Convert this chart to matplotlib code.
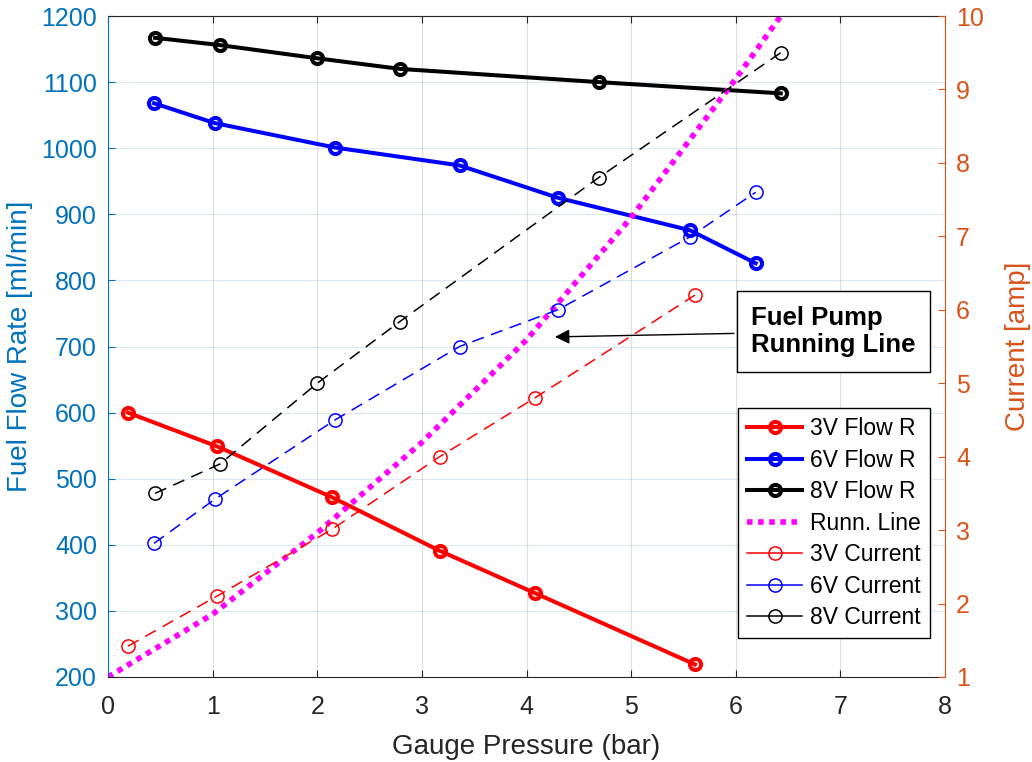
import numpy as np
import matplotlib
matplotlib.use("Agg")
import matplotlib.pyplot as plt
from matplotlib.legend_handler import HandlerLine2D

plt.rcParams['font.family'] = ['Liberation Sans', 'DejaVu Sans']

# pressure points (bar) for each voltage
x_3v = [0.19, 1.04, 2.14, 3.17, 4.08, 5.61]
x_6v = [0.44, 1.02, 2.17, 3.36, 4.30, 5.56, 6.19]
x_8v = [0.45, 1.07, 2.00, 2.79, 4.69, 6.43]

# flow rate (ml/min)
flow_3v = [600, 549, 472, 391, 327, 219]
flow_6v = [1068, 1038, 1001, 974, 925, 876, 826]
flow_8v = [1167, 1156, 1136, 1120, 1100, 1083]

# current (amp)
cur_3v = [1.42, 2.10, 3.01, 4.00, 4.80, 6.20]
cur_6v = [2.82, 3.42, 4.50, 5.50, 6.00, 6.99, 7.60]
cur_8v = [3.50, 3.90, 5.00, 5.84, 7.80, 9.50]

# pump running line (ml/min)
run_x = [0, 1, 2, 3, 4, 5, 6, 6.43]
run_y = [200, 295, 418, 555, 710, 895, 1105, 1200]

c_left = '#0072BD'
c_right = '#D95319'
c_dark = '#262626'

fig = plt.figure(figsize=(10.32, 7.62), dpi=100)
ax = fig.add_axes([108/1032, 1 - 677/762, 837/1032, 661/762])
ax2 = ax.twinx()

thick = dict(lw=2.9, marker='o', ms=8, mew=2.9, mfc='none')
thin = dict(lw=1.1, marker='o', ms=9.5, mew=1.1, mfc='none', ls=(0, (8, 5)))

h1, = ax.plot(x_3v, flow_3v, color='r', mec='r', label='3V Flow R', **thick)
h2, = ax.plot(x_6v, flow_6v, color='b', mec='b', label='6V Flow R', **thick)
h3, = ax.plot(x_8v, flow_8v, color='k', mec='k', label='8V Flow R', **thick)
h4, = ax.plot(run_x, run_y, color='#FF00FF', lw=4, ls=(0, (1, 1)), label='Runn. Line')
h5, = ax2.plot(x_3v, cur_3v, color='r', mec='r', label='3V Current', **thin)
h6, = ax2.plot(x_6v, cur_6v, color='b', mec='b', label='6V Current', **thin)
h7, = ax2.plot(x_8v, cur_8v, color='k', mec='k', label='8V Current', **thin)

ax.set_xlim(0, 8)
ax.set_ylim(200, 1200)
ax2.set_ylim(1, 10)
ax.set_xticks(range(0, 9))
ax.set_yticks(range(200, 1201, 100))
ax2.set_yticks(range(1, 11))

ax.grid(axis='x', color=c_dark, alpha=0.15, lw=0.8)
ax.grid(axis='y', color=c_left, alpha=0.15, lw=0.8)
ax.set_axisbelow(True)

ax.tick_params(axis='x', direction='in', top=True, length=5, labelsize=18,
               colors=c_dark, pad=13)
ax.tick_params(axis='y', direction='in', length=5, labelsize=18,
               colors=c_left, pad=8)
ax2.tick_params(axis='y', direction='in', length=5, labelsize=18,
                colors=c_right, pad=8)

ax.spines['right'].set_visible(False)
ax.spines['left'].set_color(c_left)
ax.spines['top'].set_color(c_dark)
ax.spines['bottom'].set_color(c_dark)
for s in ['left', 'top', 'bottom']:
    ax2.spines[s].set_visible(False)
ax2.spines['right'].set_color(c_right)

ax.set_xlabel('Gauge Pressure (bar)', fontsize=20, color=c_dark)
ax.set_ylabel('Fuel Flow Rate [ml/min]', fontsize=20, color=c_left)
ax2.set_ylabel('Current [amp]', fontsize=20, color=c_right)
ax.xaxis.set_label_coords(0.5, -0.086)
ax.yaxis.set_label_coords(-0.0896, 0.5)
ax2.yaxis.set_label_coords(1.072, 0.5)

ax2.annotate('Fuel Pump\nRunning Line', xy=(4.245, 5.63),
             xytext=(0.8077, 0.565), textcoords='figure fraction',
             ha='center', va='center', multialignment='left',
             fontsize=18.5, fontweight='bold', linespacing=1.2,
             bbox=dict(boxstyle='square,pad=0.55', fc='white', ec='k', lw=1),
             arrowprops=dict(arrowstyle='-|>', color='k', lw=1,
                             mutation_scale=22))


def solid_handle(leg_line, orig):
    leg_line.update_from(orig)
    leg_line.set_linestyle('-')


leg = ax2.legend(handles=[h1, h2, h3, h4, h5, h6, h7],
                 handler_map={h5: HandlerLine2D(update_func=solid_handle),
                              h6: HandlerLine2D(update_func=solid_handle),
                              h7: HandlerLine2D(update_func=solid_handle)},
                 loc='upper right', bbox_to_anchor=(930/1032, 1 - 408/762),
                 bbox_transform=fig.transFigure, borderaxespad=0,
                 fontsize=16.5, handlelength=2.4, handletextpad=0.35,
                 labelspacing=0.37, borderpad=0.4,
                 numpoints=1, fancybox=False, framealpha=1, edgecolor='k')
leg.get_frame().set_linewidth(1)

fig.savefig('out.png', dpi=100)
